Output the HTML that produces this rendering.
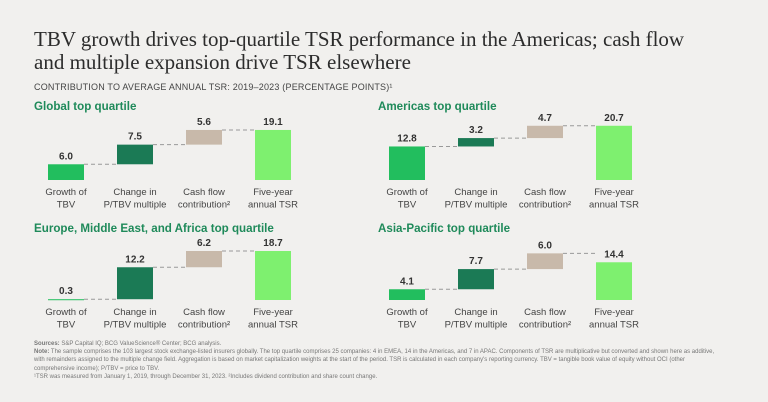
<!DOCTYPE html>
<html><head><meta charset="utf-8"><style>
body{margin:0;background:#f1f0ee;width:768px;height:402px;overflow:hidden;font-family:"Liberation Sans",sans-serif;}
.t{position:absolute;left:34px;top:28px;font-family:"Liberation Serif",serif;font-size:21px;line-height:23px;color:#2c2c2c;}
.sub{position:absolute;left:34px;top:82px;font-size:9px;color:#444;letter-spacing:.2px}
.pt{position:absolute;font-size:11.6px;font-weight:bold;color:#1f8a5a}
.fn{position:absolute;left:34px;top:340px;font-size:6px;line-height:8.2px;color:#777;width:720px}
svg{position:absolute;left:0;top:0}
</style></head><body>
<div class="t">TBV growth drives top-quartile TSR performance in the Americas; cash flow<br>and multiple expansion drive TSR elsewhere</div>
<div class="sub">CONTRIBUTION TO AVERAGE ANNUAL TSR: 2019–2023 (PERCENTAGE POINTS)¹</div>
<div class="pt" style="left:34px;top:100px">Global top quartile</div>
<div class="pt" style="left:378px;top:100px">Americas top quartile</div>
<div class="pt" style="left:34px;top:222px">Europe, Middle East, and Africa top quartile</div>
<div class="pt" style="left:378px;top:222px">Asia-Pacific top quartile</div>
<div class="fn"><b>Sources:</b> S&amp;P Capital IQ; BCG ValueScience® Center; BCG analysis.<br><b>Note:</b> The sample comprises the 103 largest stock exchange-listed insurers globally. The top quartile comprises 25 companies: 4 in EMEA, 14 in the Americas, and 7 in APAC. Components of TSR are multiplicative but converted and shown here as additive,<br>with remainders assigned to the multiple change field. Aggregation is based on market capitalization weights at the start of the period. TSR is calculated in each company's reporting currency. TBV = tangible book value of equity without OCI (other<br>comprehensive income); P/TBV = price to TBV.<br>¹TSR was measured from January 1, 2019, through December 31, 2023. ²Includes dividend contribution and share count change.</div>
<svg id="c" width="768" height="402"></svg>
<script>
const categories=[["Growth of","TBV"],["Change in","P/TBV multiple"],["Cash flow","contribution²"],["Five-year","annual TSR"]];
const panelNames=["global","americas","emea","apac"];
const globalValues=[6.0,7.5,5.6,19.1];
const americasValues=[12.8,3.2,4.7,20.7];
const emeaValues=[0.3,12.2,6.2,18.7];
const apacValues=[4.1,7.7,6.0,14.4];
const allValues=[globalValues,americasValues,emeaValues,apacValues];
const colors=["#22be5e","#1b7a55","#c8b9aa","#7ef06f"];
const origins=[[48,180],[389,180],[48,300],[389,300]];
const scale=2.62, bw=36, step=69;
const y=(v,base)=>base-v*scale;
const svg=document.getElementById('c');
const NS="http://www.w3.org/2000/svg";
function mk(t,a){const e=document.createElementNS(NS,t);for(const k in a)e.setAttribute(k,a[k]);svg.appendChild(e);return e;}
allValues.forEach((vals,p)=>{
  const [x0,base]=origins[p];let cum=0;
  vals.forEach((v,i)=>{
    const x=x0+i*step;let lo,hi;
    if(i<3){lo=cum;hi=cum+v;cum=hi;}else{lo=0;hi=v;}
    const r=mk('rect',{x:x,y:y(hi,base),width:bw,height:Math.max(1,(hi-lo)*scale),fill:colors[i]});
    
    
    const tx=mk('text',{x:x+bw/2,y:y(hi,base)-5,'text-anchor':'middle','font-size':'10','font-weight':'bold',fill:'#333'});
    tx.textContent=v.toFixed(1);
    
    
    if(i<3){
      const l=mk('line',{x1:x+bw,x2:x+step,y1:y(hi,base),y2:y(hi,base),stroke:'#999','stroke-dasharray':'4,3','stroke-width':'1'});
      
      
    }
    categories[i].forEach((s,j)=>{
      const c=mk('text',{x:x+bw/2,y:base+15+j*12.5,'text-anchor':'middle','font-size':'9.5',fill:'#444'});
      c.textContent=s;
      
      
    });
  });
});
</script>
</body></html>
